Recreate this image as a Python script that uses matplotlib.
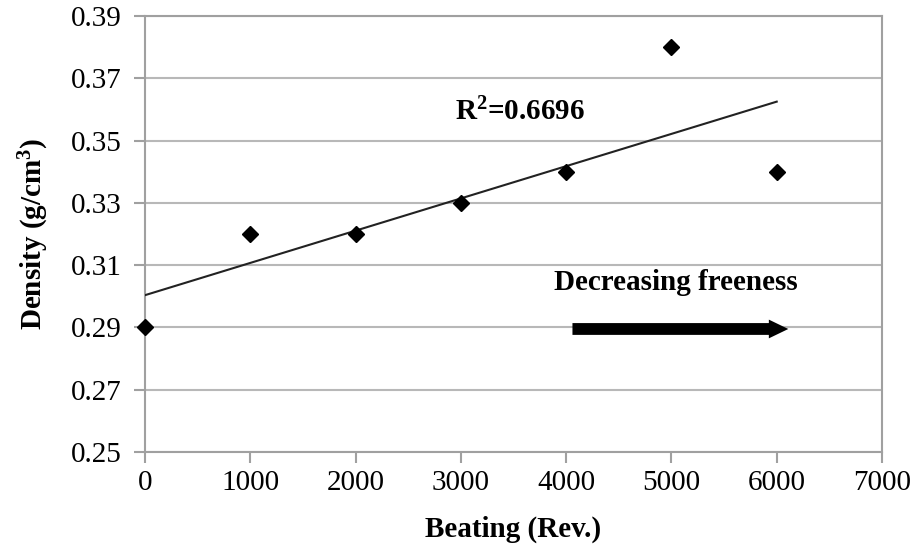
import numpy as np
import matplotlib
matplotlib.use("Agg")
import matplotlib.pyplot as plt

beating = [0, 1000, 2000, 3000, 4000, 5000, 6000]
density = [0.29, 0.32, 0.32, 0.33, 0.34, 0.38, 0.34]
xticks = [0, 1000, 2000, 3000, 4000, 5000, 6000, 7000]
yticks = [0.25, 0.27, 0.29, 0.31, 0.33, 0.35, 0.37, 0.39]

plt.rcParams['font.family'] = ['Liberation Serif', 'DejaVu Serif']
plt.rcParams['mathtext.fontset'] = 'custom'
plt.rcParams['mathtext.rm'] = 'Liberation Serif'
plt.rcParams['mathtext.bf'] = 'Liberation Serif:bold'
plt.rcParams['mathtext.it'] = 'Liberation Serif:italic'

FS = 21
fig = plt.figure(figsize=(9.1, 5.49), dpi=100)
ax = fig.add_axes([145/910, 1-452/549, (882-145)/910, (452-16)/549])

x = np.array(beating, dtype=float)
y = np.array(density)
slope, intercept = np.polyfit(x, y, 1)
yhat = slope * x + intercept
r2 = 1 - np.sum((y - yhat)**2) / np.sum((y - y.mean())**2)

ax.plot([x.min(), x.max()], [slope*x.min()+intercept, slope*x.max()+intercept],
        color='#222222', lw=1.5, zorder=3)
ax.plot(x, y, linestyle='none', marker='D', color='black', markersize=8, zorder=4, clip_on=False)

ax.set_xlim(0, 7000)
ax.set_ylim(0.25, 0.39)
ax.set_xticks(xticks)
ax.set_yticks(yticks)
ax.set_xticklabels([str(t) for t in xticks])
ax.set_yticklabels([f"{t:.2f}" for t in yticks])
ax.grid(axis='y', color='#b8b8b8', lw=1.5)
ax.set_axisbelow(True)
for s in ax.spines.values():
    s.set_color('#a0a0a0')
    s.set_linewidth(1.5)
ax.tick_params(axis='both', colors='#a0a0a0', labelcolor='black', labelsize=FS, width=1.5, length=8)
ax.tick_params(axis='y', pad=9)
ax.tick_params(axis='x', pad=5)

ax.set_xlabel('Beating (Rev.)', fontsize=FS, fontweight='bold', labelpad=14)
ax.set_ylabel('Density (g/cm$^{\\mathbf{3}}$)', fontsize=FS, fontweight='bold', labelpad=14)

ax.text(3560, 0.359, f'R$^{{\\mathbf{{2}}}}$={r2:.4f}', fontsize=FS, fontweight='bold', ha='center', va='center')
ax.text(5040, 0.3, 'Decreasing freeness', fontsize=FS, fontweight='bold', ha='center', va='bottom')
ax.annotate('', xy=(6110, 0.2895), xytext=(4060, 0.2895),
            arrowprops=dict(arrowstyle='simple,head_length=1.4,head_width=1.35,tail_width=0.85',
                            color='black', lw=0, mutation_scale=10,
                            shrinkA=0, shrinkB=0))

fig.savefig('out.png', dpi=100)
